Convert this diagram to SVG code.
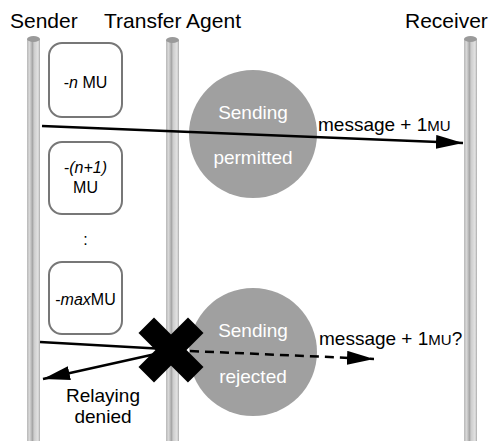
<svg xmlns="http://www.w3.org/2000/svg" width="492" height="441" viewBox="0 0 492 441">
  <defs>
    <linearGradient id="pillarGrad" x1="0" y1="0" x2="1" y2="0">
      <stop offset="0" stop-color="#b8b8b8"/>
      <stop offset="0.2" stop-color="#d8d8d8"/>
      <stop offset="0.42" stop-color="#a6a6a6"/>
      <stop offset="0.55" stop-color="#cdcdcd"/>
      <stop offset="0.85" stop-color="#e2e2e2"/>
      <stop offset="1" stop-color="#aaaaaa"/>
    </linearGradient>
    <marker id="head" markerUnits="userSpaceOnUse" markerWidth="28" markerHeight="16" refX="27" refY="7" orient="auto">
      <path d="M0,0 L27,7 L0,14 z" fill="#000"/>
    </marker>
  </defs>
  <style>
    text { font-family: "Liberation Sans", Arial, sans-serif; }
    .title { font-size: 21px; fill: #000; }
    .label { font-size: 19px; fill: #000; }
    .box { fill: #fff; stroke: #777; stroke-width: 2; }
    .boxtext { font-size: 16px; fill: #000; text-anchor: middle; }
    .state { fill: #a0a0a0; }
    .statetext { font-size: 19px; fill: #fff; text-anchor: middle; }
    .pillar { fill: url(#pillarGrad); }
    .cap { fill: #9a9a9a; }
    .wire { stroke: #000; stroke-width: 2.5; fill: none; }
  </style>

  <rect width="492" height="441" fill="#fff"/>

  <!-- lifelines -->
  <g id="sender">
    <rect class="pillar" x="27" y="39" width="13" height="402"/>
    <ellipse class="cap" cx="33.5" cy="39" rx="6.5" ry="3"/>
    <text class="title" x="10" y="28">Sender</text>
  </g>
  <g id="transfer-agent">
    <rect class="pillar" x="166" y="40" width="13" height="401"/>
    <ellipse class="cap" cx="172.5" cy="40" rx="6.5" ry="3"/>
    <text class="title" x="104" y="28">Transfer Agent</text>
  </g>
  <g id="receiver">
    <rect class="pillar" x="464" y="39" width="13" height="402"/>
    <ellipse class="cap" cx="470.5" cy="39" rx="6.5" ry="3"/>
    <text class="title" x="405" y="28">Receiver</text>
  </g>

  <!-- balance boxes -->
  <g id="box-n">
    <rect class="box" x="49" y="43" width="73" height="74" rx="13"/>
    <text class="boxtext" x="85.5" y="88">-<tspan font-style="italic">n</tspan> MU</text>
  </g>
  <g id="box-n1">
    <rect class="box" x="49" y="142" width="73" height="72" rx="13"/>
    <text class="boxtext" x="85.5" y="173">-<tspan font-style="italic">(n+1)</tspan></text>
    <text class="boxtext" x="85.5" y="193">MU</text>
  </g>
  <g id="ellipsis">
    <text class="boxtext" x="85.5" y="245">:</text>
  </g>
  <g id="box-max">
    <rect class="box" x="49" y="262" width="73" height="72" rx="13"/>
    <text class="boxtext" x="85.5" y="305">-<tspan font-style="italic">max</tspan>MU</text>
  </g>

  <!-- agent states -->
  <g id="state-permitted">
    <circle class="state" cx="253" cy="134" r="64"/>
    <text class="statetext" x="253" y="119">Sending</text>
    <text class="statetext" x="253" y="164">permitted</text>
  </g>
  <g id="state-rejected">
    <circle class="state" cx="253" cy="352" r="64"/>
    <text class="statetext" x="253" y="337">Sending</text>
    <text class="statetext" x="253" y="383">rejected</text>
  </g>

  <!-- connectors -->
  <g id="connectors">
    <line class="wire" x1="42" y1="126" x2="463" y2="143" marker-end="url(#head)"/>
    <text class="label" x="318" y="131">message + 1<tspan font-size="15">MU</tspan></text>

    <line class="wire" x1="40" y1="342" x2="165" y2="349"/>
    <line class="wire" x1="190" y1="351" x2="374" y2="359" stroke-dasharray="9 6" marker-end="url(#head)"/>
    <text class="label" x="319" y="345">message + 1<tspan font-size="15">MU</tspan>?</text>

    <line class="wire" x1="160" y1="353" x2="43" y2="379" marker-end="url(#head)"/>
    <text class="label" x="103" y="402" text-anchor="middle">Relaying</text>
    <text class="label" x="103" y="423" text-anchor="middle">denied</text>

    <!-- blocked relay mark -->
    <g transform="translate(171 350) rotate(45)">
      <rect x="-35" y="-11" width="70" height="22" fill="#000"/>
      <rect x="-11" y="-35" width="22" height="70" fill="#000"/>
    </g>
  </g>
</svg>
